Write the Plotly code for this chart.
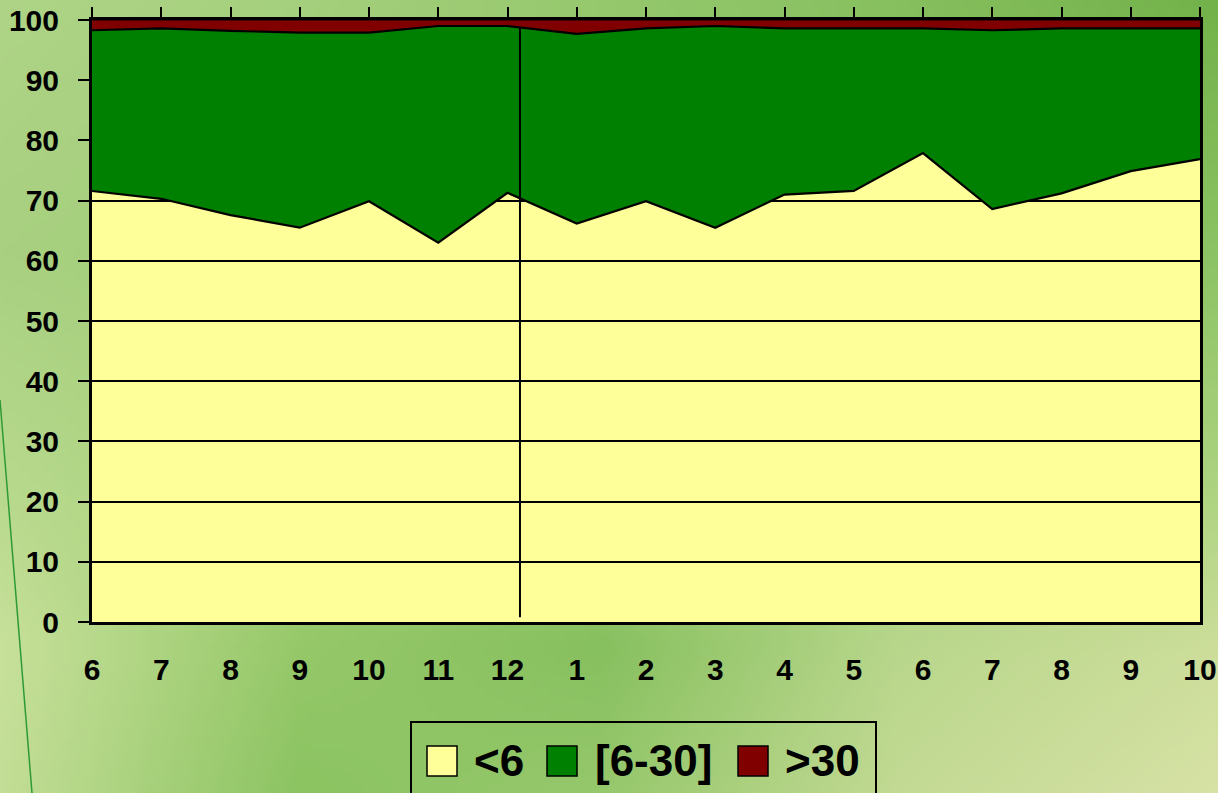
import base64
import struct
import zlib

import numpy as np
import plotly.graph_objects as go

# ---------------- data ----------------
tick_labels = ["6", "7", "8", "9", "10", "11", "12", "1", "2", "3", "4", "5", "6", "7", "8", "9", "10"]
series_names = ["<6", "[6-30]", ">30"]
lt6 = [71.6, 70.3, 67.6, 65.5, 69.9, 63.0, 71.3, 66.2, 69.9, 65.5, 71.0, 71.6, 77.9, 68.6, 71.2, 74.9, 76.9]
mid = [26.7, 28.3, 30.6, 32.4, 28.0, 36.0, 27.7, 31.5, 28.7, 33.5, 27.6, 27.0, 20.7, 29.7, 27.4, 23.7, 21.7]
gt30 = [1.7, 1.4, 1.8, 2.1, 2.1, 1.0, 1.0, 2.3, 1.4, 1.0, 1.4, 1.4, 1.4, 1.7, 1.4, 1.4, 1.4]
y_ticks = [0, 10, 20, 30, 40, 50, 60, 70, 80, 90, 100]
divider_x = 6.18
divider_y = (0.8, 98.8)

colors = ["#FFFF99", "#008000", "#800000"]
FONT = "Arial, Liberation Sans, sans-serif"

W, H = 1218, 793
ML, MR, MT, MB = 92, 18, 20, 171
PW, PH = W - ML - MR, H - MT - MB


def px(x):
    return (x - ML) / PW


def py(y):
    return (H - MB - y) / PH


# ---------------- background gradient image ----------------
gx = np.array([0, 300, 600, 900, 1218], dtype=float)
gy = np.array([0, 250, 500, 650, 793], dtype=float)
grid = np.array([
    [(175, 212, 135), (165, 208, 125), (150, 200, 110), (135, 192, 95), (115, 178, 75)],
    [(168, 208, 128), (160, 205, 120), (150, 200, 110), (145, 198, 105), (140, 195, 100)],
    [(185, 218, 142), (165, 208, 120), (160, 205, 115), (170, 210, 125), (175, 212, 130)],
    [(200, 225, 155), (150, 200, 105), (135, 192, 95), (185, 215, 140), (205, 222, 155)],
    [(195, 222, 150), (140, 196, 98), (150, 200, 108), (195, 218, 148), (215, 226, 165)],
], dtype=float)
iw, ih = 203, 132
xs = np.linspace(0, W, iw)
ys = np.linspace(0, H, ih)
tmp = np.zeros((len(gy), iw, 3))
for r in range(len(gy)):
    for c in range(3):
        tmp[r, :, c] = np.interp(xs, gx, grid[r, :, c])
img = np.zeros((ih, iw, 3))
for i in range(iw):
    for c in range(3):
        img[:, i, c] = np.interp(ys, gy, tmp[:, i, c])
img = np.clip(img, 0, 255).astype(np.uint8)


def to_png(a):
    h, w, _ = a.shape
    raw = b"".join(b"\x00" + a[r].tobytes() for r in range(h))

    def chunk(tag, data):
        c = struct.pack(">I", len(data)) + tag + data
        return c + struct.pack(">I", zlib.crc32(tag + data) & 0xFFFFFFFF)

    return (b"\x89PNG\r\n\x1a\n" + chunk(b"IHDR", struct.pack(">IIBBBBB", w, h, 8, 2, 0, 0, 0))
            + chunk(b"IDAT", zlib.compress(raw, 9)) + chunk(b"IEND", b""))


bg_uri = "data:image/png;base64," + base64.b64encode(to_png(img)).decode()

# ---------------- figure ----------------
x = list(range(len(tick_labels)))
fig = go.Figure()
fig.add_trace(go.Scatter(x=x, y=lt6, name=series_names[0], stackgroup="one", mode="lines",
                         line=dict(color="black", width=2.2), fillcolor="rgba(0,0,0,0)",
                         showlegend=False, hoverinfo="skip"))
fig.add_trace(go.Scatter(x=x, y=mid, name=series_names[1], stackgroup="one", mode="lines",
                         line=dict(color="black", width=2.2), fillcolor=colors[1],
                         showlegend=False, hoverinfo="skip"))
fig.add_trace(go.Scatter(x=x, y=gt30, name=series_names[2], stackgroup="one", mode="lines",
                         line=dict(color="black", width=1), fillcolor=colors[2],
                         showlegend=False, hoverinfo="skip"))
fig.add_trace(go.Scatter(x=[x[0], x[-1]], y=[None, None], xaxis="x2", showlegend=False,
                         hoverinfo="skip", mode="lines"))

fig.update_layout(
    width=W, height=H,
    margin=dict(l=ML, r=MR, t=MT, b=MB, pad=0, autoexpand=False),
    paper_bgcolor="#9ccc78",
    plot_bgcolor=colors[0],
    showlegend=False,
    xaxis=dict(range=[x[0], x[-1]], tickvals=x, ticktext=tick_labels, ticks="",
               showgrid=False, zeroline=False, showline=True, linecolor="black", linewidth=3,
               tickfont=dict(family=FONT, size=30, color="black", weight="bold"),
               ticklabelstandoff=19, automargin=False),
    xaxis2=dict(range=[x[0], x[-1]], overlaying="x", side="top", anchor="y", tickvals=x,
                showticklabels=False, ticks="outside", ticklen=10, tickwidth=2, tickcolor="black",
                showgrid=False, zeroline=False, showline=True, linecolor="black", linewidth=3,
                automargin=False),
    yaxis=dict(range=[0, 100], tickvals=y_ticks, ticks="outside", ticklen=11, tickwidth=2,
               tickcolor="black", showgrid=True, gridcolor="black", gridwidth=1.5,
               zeroline=False, showline=True, linecolor="black", linewidth=3, mirror=True,
               tickfont=dict(family=FONT, size=30, color="black", weight="bold"),
               ticklabelstandoff=13, automargin=False),
    images=[dict(source=bg_uri, xref="paper", yref="paper", x=px(0), y=py(0),
                 sizex=px(W) - px(0), sizey=py(0) - py(H), xanchor="left", yanchor="top",
                 sizing="stretch", layer="below")],
)

# plot-area fill (yellow) drawn above the background image but below gridlines
fig.add_shape(type="rect", xref="paper", yref="paper", x0=0, x1=1, y0=0, y1=1,
              line=dict(width=0), fillcolor=colors[0], layer="below")

# divider line
fig.add_shape(type="line", xref="x", yref="y", x0=divider_x, x1=divider_x,
              y0=divider_y[0], y1=divider_y[1], line=dict(color="black", width=2), layer="above")

# decorative diagonal line in background
fig.add_shape(type="line", xref="paper", yref="paper", x0=px(0), y0=py(400), x1=px(32), y1=py(793),
              line=dict(color="#2e9a36", width=1.5), layer="below")

# manual legend
fig.add_shape(type="rect", xref="paper", yref="paper", x0=px(411), x1=px(876), y0=py(722), y1=py(805),
              line=dict(color="black", width=2), fillcolor="rgba(0,0,0,0)", layer="above")
sq_x = [427, 547, 738]
txt_x = [472, 593, 783]
for name, col, sx, tx in zip(series_names, colors, sq_x, txt_x):
    fig.add_shape(type="rect", xref="paper", yref="paper", x0=px(sx), x1=px(sx + 30),
                  y0=py(746), y1=py(776), line=dict(color="black", width=1.5), fillcolor=col,
                  layer="above")
    fig.add_annotation(xref="paper", yref="paper", x=px(tx), y=py(761), text=name, showarrow=False,
                       xanchor="left", yanchor="middle",
                       font=dict(family=FONT, size=44, color="black", weight="bold"))

fig.write_html("out.html", config={"displayModeBar": False},
               post_script="document.body.style.margin='0';document.body.style.overflow='hidden';")
